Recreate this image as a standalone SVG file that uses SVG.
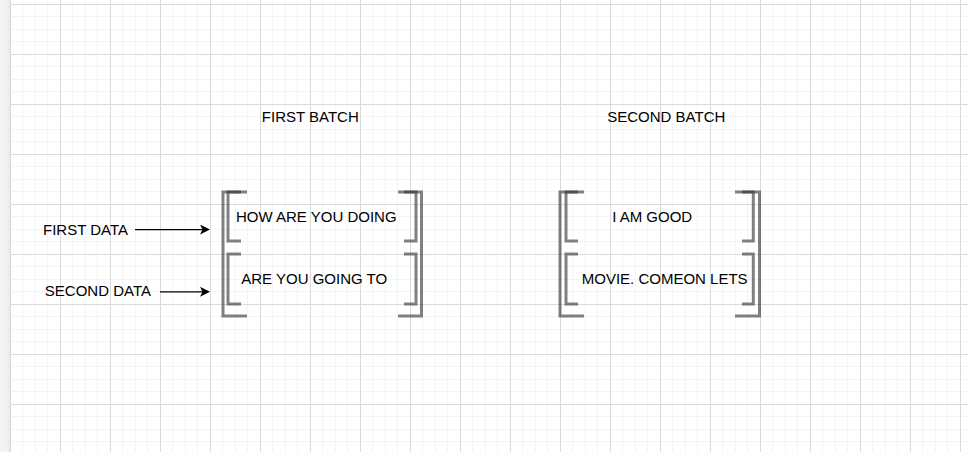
<svg xmlns="http://www.w3.org/2000/svg" width="968" height="452" viewBox="0 0 968 452">
  <defs>
    <pattern id="grid" patternUnits="userSpaceOnUse" x="10" y="4" width="50" height="50">
      <rect x="12" y="0" width="1" height="50" fill="#f4f4f4"/>
      <rect x="25" y="0" width="1" height="50" fill="#f4f4f4"/>
      <rect x="37" y="0" width="1" height="50" fill="#f4f4f4"/>
      <rect x="0" y="12" width="50" height="1" fill="#f4f4f4"/>
      <rect x="0" y="25" width="50" height="1" fill="#f4f4f4"/>
      <rect x="0" y="37" width="50" height="1" fill="#f4f4f4"/>
      <rect x="0" y="0" width="1" height="50" fill="#dadada"/>
      <rect x="0" y="0" width="50" height="1" fill="#dadada"/>
    </pattern>
    <marker id="arrow" viewBox="0 0 10 10" refX="7" refY="5" markerWidth="10" markerHeight="10" markerUnits="userSpaceOnUse" orient="auto">
      <path d="M0,0 L10,5 L0,10 L2.5,5 Z" fill="#000"/>
    </marker>
    <linearGradient id="edge" x1="0" y1="0" x2="1" y2="0">
      <stop offset="0" stop-color="#f4f5f6"/>
      <stop offset="0.8" stop-color="#f0f1f2"/>
      <stop offset="1" stop-color="#e6e7e8"/>
    </linearGradient>
  </defs>
  <style>
    text { font-family: "Liberation Sans", Arial, sans-serif; font-size: 15px; fill: #000; text-anchor: middle; }
    .br { fill: none; stroke: #333; stroke-opacity: 0.62; stroke-width: 3; stroke-linecap: butt; stroke-linejoin: miter; }
    .conn { fill: none; stroke: #000; stroke-width: 1.25; }
  </style>

  <rect x="0" y="0" width="968" height="452" fill="#ffffff"/>
  <rect x="10" y="0" width="958" height="452" fill="url(#grid)"/>
  <rect x="0" y="0" width="10" height="452" fill="url(#edge)"/>

  <g id="title-first-batch"><text x="310.3" y="121.7">FIRST BATCH</text></g>
  <g id="title-second-batch"><text x="666.3" y="121.7">SECOND BATCH</text></g>

  <g id="first-batch-bracket">
    <path class="br" d="M247,192 H223 V316 H247"/>
    <path class="br" d="M398,192 H421.5 V316 H398"/>
  </g>
  <g id="first-data-node">
    <path class="br" d="M241,192 H228 V241 H241"/>
    <path class="br" d="M404,192 H416 V241 H404"/>
    <text x="316.3" y="221.7">HOW ARE YOU DOING</text>
  </g>
  <g id="second-data-node">
    <path class="br" d="M241,254 H228 V304 H241"/>
    <path class="br" d="M404,254 H416 V304 H404"/>
    <text x="314.2" y="284.3">ARE YOU GOING TO</text>
  </g>

  <g id="second-batch-bracket">
    <path class="br" d="M584,192 H560 V316 H584"/>
    <path class="br" d="M735,192 H759.5 V316 H735"/>
  </g>
  <g id="second-batch-first-node">
    <path class="br" d="M578,192 H566 V241 H578"/>
    <path class="br" d="M742,192 H753.3 V241 H742"/>
    <text x="652.2" y="221.7">I AM GOOD</text>
  </g>
  <g id="second-batch-second-node">
    <path class="br" d="M578,254 H566 V304 H578"/>
    <path class="br" d="M742,254 H753.3 V304 H742"/>
    <text x="664.7" y="284.3">MOVIE. COMEON LETS</text>
  </g>

  <g id="label-first-data"><text x="85.5" y="235">FIRST DATA</text></g>
  <g id="label-second-data"><text x="97.9" y="296">SECOND DATA</text></g>

  <g id="connectors">
    <path class="conn" d="M135,229.5 H207" marker-end="url(#arrow)"/>
    <path class="conn" d="M160,291.8 H207" marker-end="url(#arrow)"/>
  </g>
</svg>
